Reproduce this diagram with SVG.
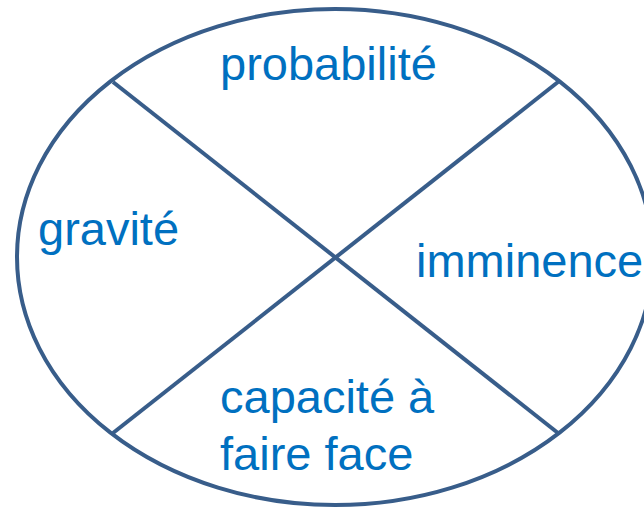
<svg xmlns="http://www.w3.org/2000/svg" width="644" height="509" viewBox="0 0 644 509">
<style>
.s{fill:none;stroke:#385D8A;stroke-width:4}
.t{font-family:"Liberation Sans",Arial,sans-serif;font-size:47px;fill:#0070C0}
</style>
<rect width="644" height="509" fill="#ffffff"/>
<g id="ellipse"><ellipse class="s" cx="335" cy="257" rx="318" ry="248"/></g>
<g id="connectors">
<line class="s" x1="113" y1="82" x2="558" y2="433"/>
<line class="s" x1="558" y1="82" x2="113" y2="433"/>
</g>
<g id="probabilite"><text class="t" x="220" y="80">probabilité</text></g>
<g id="gravite"><text class="t" x="38" y="245">gravité</text></g>
<g id="imminence"><text class="t" x="416" y="277">imminence</text></g>
<g id="capacite"><text class="t" x="220" y="413">capacité à</text><text class="t" x="220" y="470">faire face</text></g>
</svg>
